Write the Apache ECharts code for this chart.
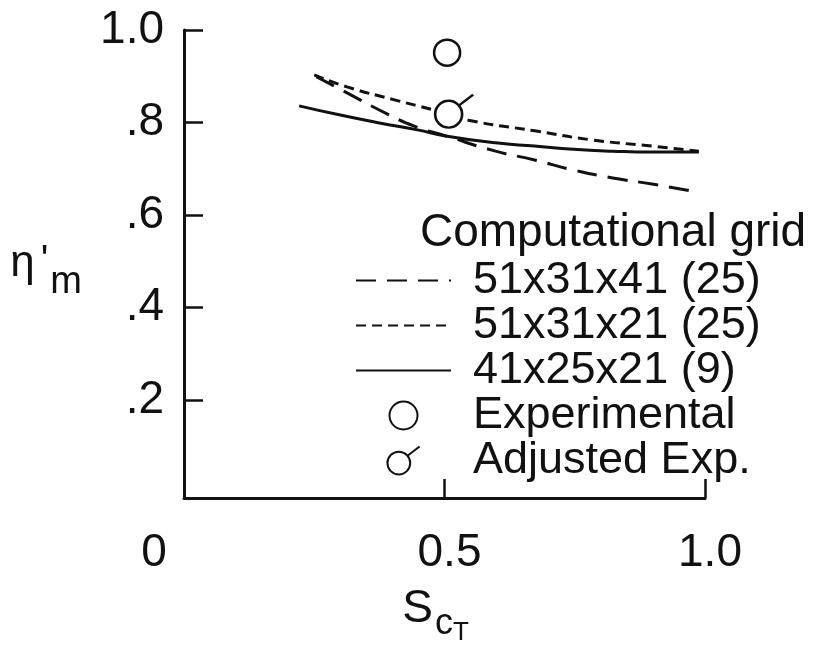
<!DOCTYPE html>
<html>
<head>
<meta charset="utf-8">
<script src="https://cdn.jsdelivr.net/npm/echarts@6/dist/echarts.min.js"></script>
<style>
  html, body { margin: 0; padding: 0; background: #fff; }
  #chart { width: 817px; height: 645px; }
</style>
</head>
<body>
<div id="chart"></div>
<script>
// 曲线数据 [Sc_T, eta'_m]
const grid513141 = [[0.254, 0.899], [0.313, 0.864], [0.375, 0.827], [0.442, 0.792], [0.502, 0.771], [0.598, 0.738], [0.673, 0.719], [0.748, 0.697], [0.823, 0.680], [0.898, 0.667], [0.973, 0.652]]
const grid513121 = [[0.25, 0.903], [0.313, 0.877], [0.404, 0.849], [0.479, 0.827], [0.546, 0.805], [0.673, 0.782], [0.785, 0.762], [0.898, 0.749], [0.988, 0.738]]
const grid412521 = [[0.221, 0.836], [0.30, 0.816], [0.375, 0.799], [0.448, 0.784], [0.502, 0.771], [0.598, 0.756], [0.673, 0.749], [0.748, 0.742], [0.823, 0.738], [0.898, 0.736], [0.988, 0.736]]
const experimental = [[0.505, 0.951]]
const adjustedExp = [[0.508, 0.818]]

const seriesNames = ['51x31x41 (25)', '51x31x21 (25)', '41x25x21 (9)', 'Experimental', 'Adjusted Exp.']

// 刻度
const yTicks = [0.2, 0.4, 0.6, 0.8, 1.0]
const yTickLabels = ['.2', '.4', '.6', '.8', '1.0']
const xTicks = [0, 0.5, 1.0]
const xTickLabels = ['0', '0.5', '1.0']

const FONT = '"Liberation Sans", Arial, Helvetica, sans-serif'
const INK = '#111'

// 带斜线的圆圈 (Adjusted Exp.)
const adjustedSymbol = 'path://M -13.5 0 A 13.5 13.5 0 1 1 13.5 0 A 13.5 13.5 0 1 1 -13.5 0 Z M 10.3 -8.7 L 24.6 -19.7'

const pick = (ticks, labels, v) => {
  const i = ticks.findIndex(t => Math.abs(t - v) < 1e-6)
  return i < 0 ? '' : labels[i]
}

const chart = echarts.init(document.getElementById('chart'))

const lineSeries = (name, data, type) => ({
  name,
  type: 'line',
  data,
  smooth: true,
  symbol: 'none',
  itemStyle: { color: INK },
  lineStyle: { color: INK, width: 3, type },
  z: 2
})

// 图例: 线条项不显示中间的圆点
const legendData = seriesNames.map((name, i) =>
  i < 3 ? { name, itemStyle: { color: 'transparent', borderWidth: 0, opacity: 0 } } : { name }
)

chart.setOption({
  animation: false,
  backgroundColor: '#fff',
  title: {
    text: 'Computational grid',
    left: 420,
    top: 210,
    padding: 0,
    textStyle: { fontFamily: FONT, fontSize: 46, fontWeight: 'normal', color: INK }
  },
  legend: {
    data: legendData,
    orient: 'vertical',
    left: 355,
    top: 258,
    padding: 0,
    itemGap: 0,
    itemWidth: 95,
    itemHeight: 28,
    selectedMode: false,
    textStyle: { fontFamily: FONT, fontSize: 45, lineHeight: 45, color: INK, padding: [0, 0, 0, 17] }
  },
  grid: { left: 184, right: 112, top: 30, bottom: 147, containLabel: false, outerBoundsMode: 'none' },
  xAxis: {
    type: 'value',
    min: 0,
    max: 1.0,
    axisLine: { onZero: false, lineStyle: { color: INK, width: 3 } },
    axisTick: { show: true, inside: true, length: 19, customValues: [0.5, 1.0], lineStyle: { color: INK, width: 2.5 } },
    axisLabel: {
      customValues: xTicks,
      margin: 32,
      formatter: v => {
        const t = pick(xTicks, xTickLabels, v)
        return v === 0 ? '{z|' + t + '}' : '{n|' + t + '}'
      },
      rich: {
        z: { fontFamily: FONT, fontSize: 46, color: INK, padding: [0, 60, 0, 0] },
        n: { fontFamily: FONT, fontSize: 46, color: INK, padding: [0, 0, 0, 10] }
      }
    },
    splitLine: { show: false },
    name: '{s|S}{c|c}{t|T}',
    nameLocation: 'middle',
    nameGap: 88,
    nameTextStyle: {
      padding: [0, 18, 0, 0],
      rich: {
        s: { fontFamily: FONT, fontSize: 46, color: INK, lineHeight: 46, verticalAlign: 'top' },
        c: { fontFamily: FONT, fontSize: 36, color: INK, lineHeight: 36, verticalAlign: 'top', padding: [20, 0, 0, 2] },
        t: { fontFamily: FONT, fontSize: 26, color: INK, lineHeight: 26, verticalAlign: 'top', padding: [34, 0, 0, 0] }
      }
    }
  },
  yAxis: {
    type: 'value',
    min: -0.012,
    max: 1.0,
    axisLine: { show: true, onZero: false, lineStyle: { color: INK, width: 3 } },
    axisTick: { show: true, inside: true, length: 19, customValues: yTicks, lineStyle: { color: INK, width: 2.5 } },
    axisLabel: {
      customValues: yTicks,
      margin: 20,
      fontFamily: FONT,
      fontSize: 46,
      color: INK,
      formatter: v => pick(yTicks, yTickLabels, v)
    },
    splitLine: { show: false },
    name: '{e|η}{p|\'}{m|m}',
    nameLocation: 'middle',
    nameRotate: 0,
    nameGap: 102,
    nameTextStyle: {
      rich: {
        e: { fontFamily: FONT, fontSize: 44, color: INK, lineHeight: 44, verticalAlign: 'top' },
        p: { fontFamily: FONT, fontSize: 40, color: INK, lineHeight: 40, verticalAlign: 'top', padding: [0, 0, 0, 6] },
        m: { fontFamily: FONT, fontSize: 38, color: INK, lineHeight: 38, verticalAlign: 'top', padding: [22, 0, 0, 2] }
      }
    }
  },
  series: [
    lineSeries(seriesNames[0], grid513141, [20, 11]),
    lineSeries(seriesNames[1], grid513121, [10, 6]),
    lineSeries(seriesNames[2], grid412521, 'solid'),
    {
      name: seriesNames[3],
      type: 'scatter',
      data: experimental,
      symbol: 'circle',
      symbolSize: 26,
      itemStyle: { color: '#fff', borderColor: INK, borderWidth: 2.5, opacity: 1 },
      z: 3
    },
    {
      name: seriesNames[4],
      type: 'scatter',
      data: adjustedExp,
      symbol: adjustedSymbol,
      symbolSize: [38, 33],
      symbolOffset: [5.5, -3.1],
      itemStyle: { color: '#fff', borderColor: INK, borderWidth: 2.5, opacity: 1 },
      z: 3
    }
  ]
})
</script>
</body>
</html>
